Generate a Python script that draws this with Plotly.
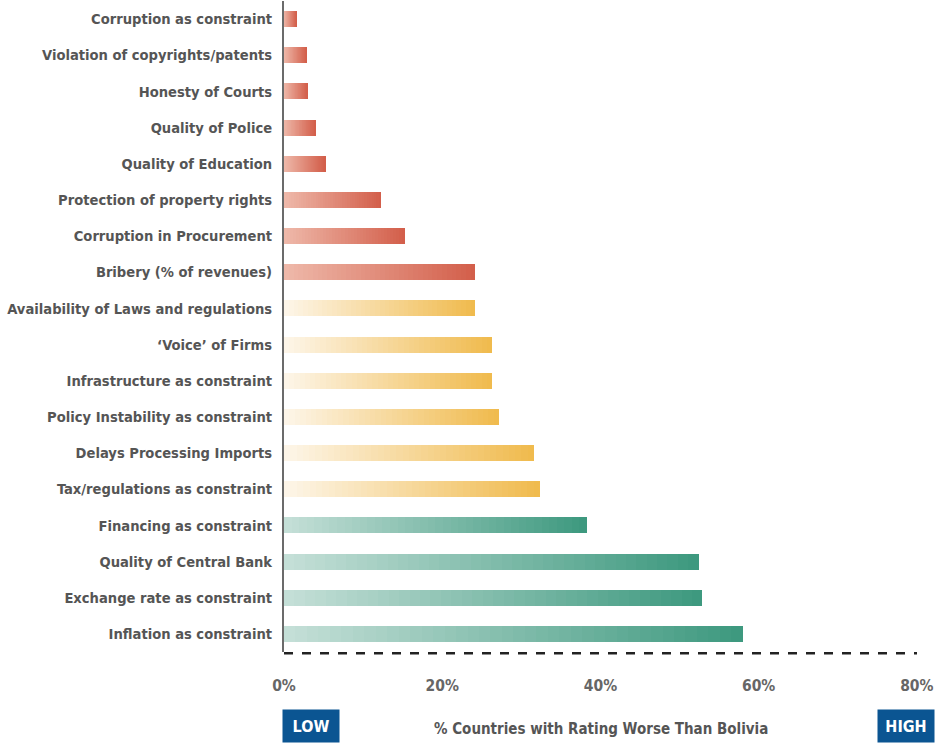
import plotly.graph_objects as go

categories = [
    "Corruption as constraint",
    "Violation of copyrights/patents",
    "Honesty of Courts",
    "Quality of Police",
    "Quality of Education",
    "Protection of property rights",
    "Corruption in Procurement",
    "Bribery (% of revenues)",
    "Availability of Laws and regulations",
    "\u2018Voice\u2019 of Firms",
    "Infrastructure as constraint",
    "Policy Instability as constraint",
    "Delays Processing Imports",
    "Tax/regulations as constraint",
    "Financing as constraint",
    "Quality of Central Bank",
    "Exchange rate as constraint",
    "Inflation as constraint",
]
values = [1.6, 2.9, 3.0, 4.0, 5.2, 12.3, 15.3, 24.2, 24.2, 26.3, 26.3, 27.2,
          31.6, 32.4, 38.3, 52.4, 52.9, 58.0]
groups = ["red"] * 8 + ["yellow"] * 6 + ["teal"] * 4
tick_vals = [0, 20, 40, 60, 80]
tick_text = ["0%", "20%", "40%", "60%", "80%"]

gradients = {
    "red": ((0xEE, 0xB8, 0xA9), (0xD3, 0x5F, 0x4B)),
    "yellow": ((0xFD, 0xF5, 0xE8), (0xF0, 0xBB, 0x4E)),
    "teal": ((0xC4, 0xDF, 0xD7), (0x3E, 0x99, 0x7F)),
}

N = 40


def mix(c0, c1, t):
    return "rgb(%d,%d,%d)" % tuple(round(a + (b - a) * t) for a, b in zip(c0, c1))


fig = go.Figure()
for k in range(N):
    t = k / (N - 1)
    fig.add_trace(go.Bar(
        y=categories,
        x=[v / N for v in values],
        orientation="h",
        width=0.44,
        marker=dict(color=[mix(*gradients[g], t) for g in groups], line=dict(width=0)),
        showlegend=False,
        hoverinfo="skip",
    ))

label_font = "Liberation Sans Narrow, DejaVu Sans Condensed, Arial Narrow, sans-serif"

fig.update_layout(
    width=935, height=743,
    margin=dict(l=284, r=18, t=1, b=91),
    barmode="stack",
    bargap=0,
    plot_bgcolor="white",
    paper_bgcolor="white",
    xaxis=dict(
        range=[0, 80.02],
        tickvals=tick_vals,
        ticktext=tick_text,
        showgrid=False,
        zeroline=False,
        showline=False,
        ticks="",
        automargin=False,
        ticklabelstandoff=22,
        tickfont=dict(family=label_font, size=15.5, color="#666666", weight="bold"),
    ),
    yaxis=dict(
        autorange="reversed",
        showgrid=False,
        zeroline=False,
        showline=True,
        linecolor="#6b6b6b",
        linewidth=2,
        ticks="",
        automargin=False,
        ticklabelstandoff=7,
        tickfont=dict(family=label_font, size=14.6, color="#555555", weight="bold"),
    ),
    shapes=[
        dict(type="line", xref="paper", yref="paper", x0=0, x1=1, y0=-0.002, y1=-0.002,
             line=dict(color="#222222", width=2.5, dash="dash"), layer="above"),
    ],
    annotations=[
        dict(text="% Countries with Rating Worse Than Bolivia", xref="paper", yref="paper",
             x=0.5, y=-0.118, xanchor="center", yanchor="middle", showarrow=False,
             font=dict(family=label_font, size=15, color="#555555", weight="bold")),
        dict(text="LOW", xref="paper", yref="paper", x=-0.003, y=-0.1398,
             xanchor="left", yanchor="bottom", showarrow=False, width=56, height=32,
             bgcolor="#0B5592", borderpad=0,
             font=dict(family=label_font, size=16, color="white", weight="bold")),
        dict(text="HIGH", xref="paper", yref="paper", x=1.0284, y=-0.1398,
             xanchor="right", yanchor="bottom", showarrow=False, width=56, height=32,
             bgcolor="#0B5592", borderpad=0,
             font=dict(family=label_font, size=16, color="white", weight="bold")),
    ],
)

fig.write_html(
    "out.html",
    config={"displayModeBar": False},
    post_script="document.body.style.margin='0';document.body.style.overflow='hidden';",
)
